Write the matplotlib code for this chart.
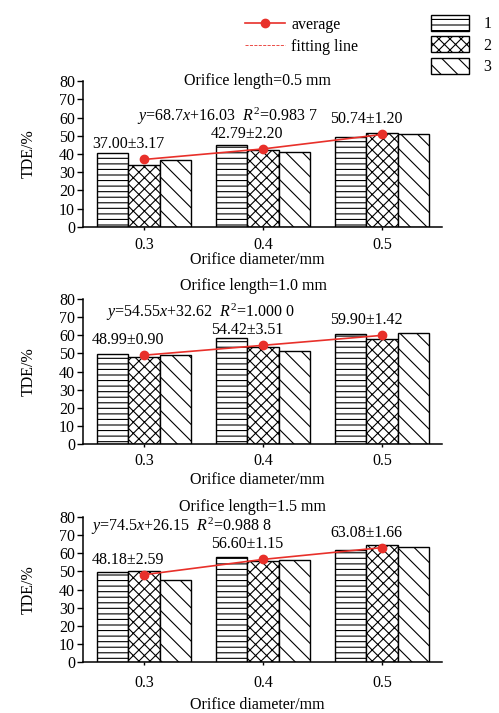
import matplotlib.pyplot as plt
from matplotlib.lines import Line2D
from matplotlib.patches import Patch

plt.rcParams['font.family'] = ['Liberation Serif', 'DejaVu Serif']
plt.rcParams['mathtext.fontset'] = 'custom'
plt.rcParams['mathtext.rm'] = 'Liberation Serif'
plt.rcParams['mathtext.it'] = 'Liberation Serif:italic'
plt.rcParams['hatch.linewidth'] = 0.8

# Orifice diameters (mm) and the three repeated runs for each orifice length
diameters = [0.3, 0.4, 0.5]
lengths = ['0.5', '1.0', '1.5']
run1 = [[40.4, 45.2, 49.4], [49.9, 58.5, 60.6], [49.5, 57.8, 61.5]]
run2 = [[34.0, 42.0, 51.6], [48.0, 53.5, 58.1], [50.0, 55.8, 64.5]]
run3 = [[36.6, 41.2, 51.2], [49.1, 51.3, 61.1], [45.0, 56.3, 63.3]]
averages = [[37.00, 42.79, 50.74], [48.99, 54.42, 59.90], [48.18, 56.60, 63.08]]
std_devs = [[3.17, 2.20, 1.20], [0.90, 3.51, 1.42], [2.59, 1.15, 1.66]]
equations = [r'$\mathit{y}$=68.7$\mathit{x}$+16.03  $\mathit{R}^{2}$=0.983 7',
             r'$\mathit{y}$=54.55$\mathit{x}$+32.62  $\mathit{R}^{2}$=1.000 0',
             r'$\mathit{y}$=74.5$\mathit{x}$+26.15  $\mathit{R}^{2}$=0.988 8']

red = '#e8302a'
hatches = ['---', 'xxx', '\\\\']
bar_w = 0.0266
fs = 11.5

fig = plt.figure(figsize=(4.99, 7.13), dpi=100)
fig.patch.set_facecolor('white')

# per-panel layout: axes bottom, title pos, equation pos, tick pad, xlabel y
bottoms = [0.682, 0.3769, 0.0711]
title_pos = [(0.485, 1.0), (0.474, 1.085), (0.471, 1.071)]
eq_pos = [(0.150, 60.8), (0.064, 72.4), (0.022, 74.6)]
tick_pads = [5.3, 3.8, 6.8]
xlabel_y = [-0.232, -0.248, -0.296]

for p in range(3):
    ax = fig.add_axes([0.1663, bottoms[p], 0.7194, 0.2040])
    for k, runs in enumerate([run1, run2, run3]):
        xs = [d + (k - 1) * bar_w for d in diameters]
        ax.bar(xs, runs[p], width=bar_w, color='white', edgecolor='black',
               hatch=hatches[k], linewidth=1.0, zorder=2)

    ax.plot(diameters, averages[p], color=red, marker='o', markersize=6,
            linewidth=1.2, zorder=4)

    # mean ± sd above each group
    for d, m, s in zip(diameters, averages[p], std_devs[p]):
        ax.text(d - 0.0135, m + 8.3, f'{m:.2f}±{s:.2f}', ha='center',
                va='center', fontsize=fs, zorder=5)

    ax.text(eq_pos[p][0], eq_pos[p][1], equations[p],
            transform=ax.get_yaxis_transform(),
            ha='left', va='center', fontsize=fs)

    ax.text(title_pos[p][0], title_pos[p][1], f'Orifice length={lengths[p]} mm',
            transform=ax.transAxes, ha='center', va='center', fontsize=fs)

    ax.set_xlim(0.2487, 0.5504)
    ax.set_ylim(0, 80)
    ax.set_xticks(diameters)
    ax.set_xticklabels(['0.3', '0.4', '0.5'])
    ax.set_yticks(range(0, 81, 10))
    ax.tick_params(axis='x', length=2.2, width=1.0, pad=tick_pads[p], labelsize=fs)
    ax.tick_params(axis='y', length=4.3, width=1.0, pad=1.5, labelsize=fs)

    for side in ['top', 'right']:
        ax.spines[side].set_visible(False)
    for side in ['left', 'bottom']:
        ax.spines[side].set_linewidth(1.1)

    ax.set_ylabel('TDE/%', fontsize=fs)
    ax.yaxis.set_label_coords(-0.128, 0.5)
    ax.set_xlabel('Orifice diameter/mm', fontsize=fs)
    ax.xaxis.set_label_coords(0.485, xlabel_y[p])
    ax.xaxis.label.set_va('center')

# legends along the top
line_handles = [Line2D([0], [0], color=red, marker='o', markersize=6, linewidth=1.2),
                Line2D([0], [0], color=red, linestyle='--', linewidth=0.6)]
fig.legend(line_handles, ['average', 'fitting line'], loc='upper left',
           bbox_to_anchor=(0.462, 0.997), frameon=False, fontsize=fs,
           handlelength=2.5, labelspacing=0.4, handletextpad=0.4)

box_handles = [Patch(facecolor='white', edgecolor='black', hatch=h, linewidth=1.0)
               for h in hatches]
fig.legend(box_handles, ['1', '2', '3'], loc='upper left',
           bbox_to_anchor=(0.835, 0.999), frameon=False, fontsize=fs,
           handlelength=2.4, handleheight=1.15, labelspacing=0.25,
           handletextpad=0.9)

fig.savefig('out.png', dpi=100)
